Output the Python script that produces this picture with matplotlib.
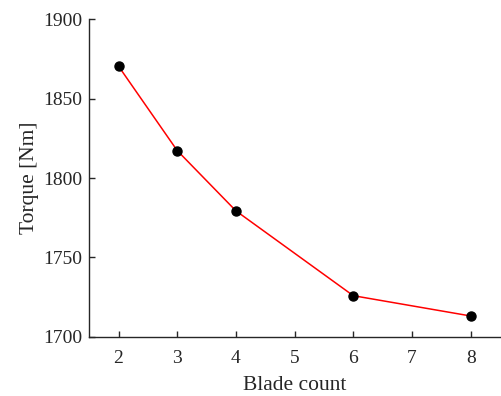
import matplotlib
matplotlib.use("Agg")
import matplotlib.pyplot as plt

blades = [2, 3, 4, 6, 8]
torque = [1870.5, 1817.3, 1779.3, 1725.8, 1713.0]
xticks = [2, 3, 4, 5, 6, 7, 8]
yticks = [1700, 1750, 1800, 1850, 1900]

plt.rcParams['font.family'] = ['Liberation Serif', 'DejaVu Serif']

fig = plt.figure(figsize=(5.01, 3.96), dpi=100)
ax = fig.add_axes([0.178, 0.150, 0.820, 0.801])

ax.plot(blades, torque, color='red', lw=1.1, zorder=2)
ax.plot(blades, torque, 'o', color='black', ms=6.5, zorder=3)

ax.set_xlim(1.5, 8.5)
ax.set_ylim(1700, 1900)
ax.set_xticks(xticks)
ax.set_yticks(yticks)
ax.set_xlabel('Blade count', fontsize=15.5, labelpad=6, color='#262626')
ax.set_ylabel('Torque [Nm]', fontsize=15.5, labelpad=3, color='#262626')

for s in ['top', 'right']:
    ax.spines[s].set_visible(False)
for s in ['left', 'bottom']:
    ax.spines[s].set_color('#262626')
    ax.spines[s].set_linewidth(1.0)
ax.tick_params(direction='in', length=4, width=1.0, color='#262626',
               labelcolor='#262626', labelsize=14)
ax.tick_params(axis='x', pad=10)
ax.tick_params(axis='y', pad=5)

fig.savefig('out.png', dpi=100)
